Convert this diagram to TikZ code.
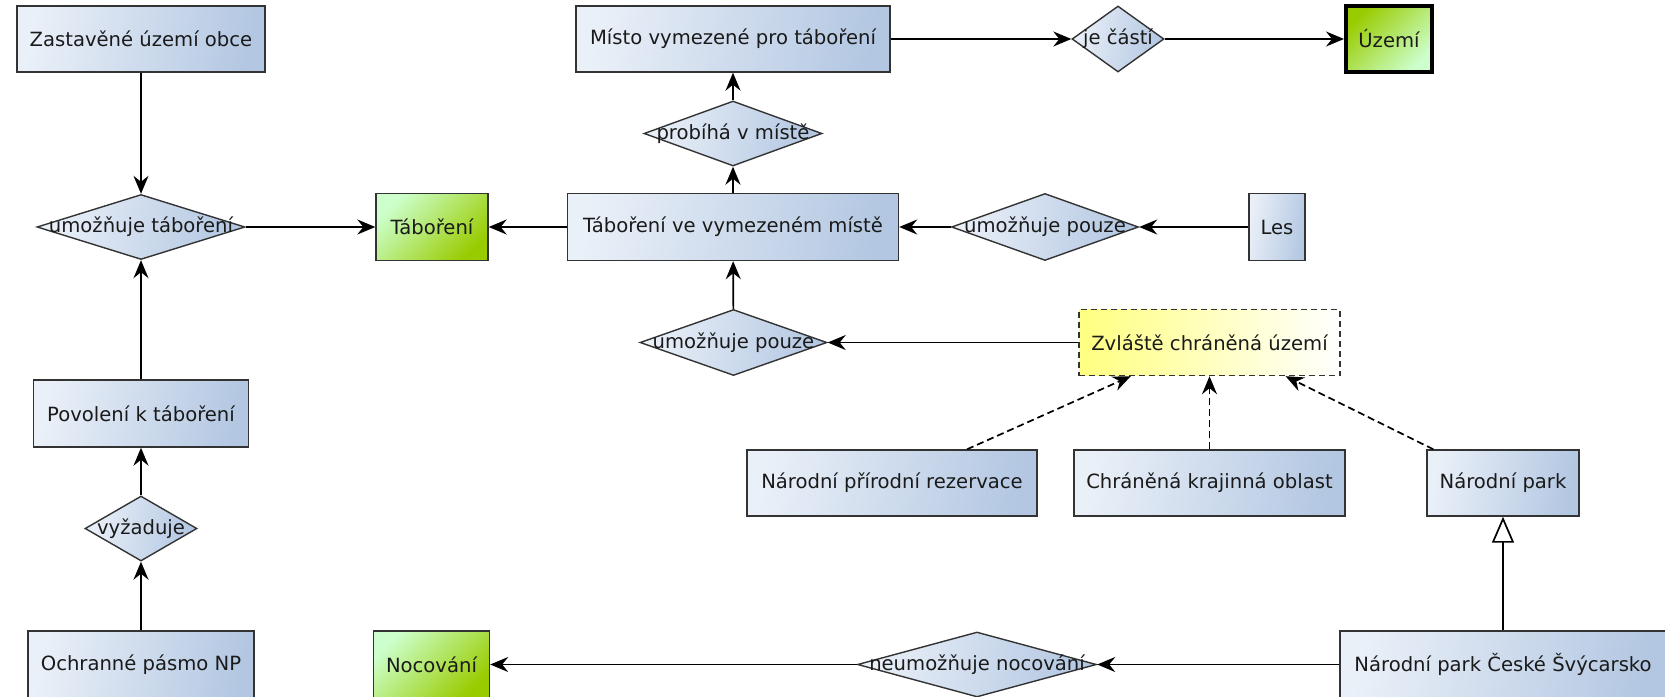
\documentclass[tikz,border=0pt]{standalone}
\usepackage{fontspec}
\setmainfont{DejaVu Sans}
\usetikzlibrary{shapes.geometric, arrows.meta, calc}
\definecolor{bluL}{HTML}{EAF0F8}
\definecolor{bluR}{HTML}{B3C7E2}
\definecolor{grnL}{HTML}{CCFFCC}
\definecolor{grnD}{HTML}{99CC00}
\definecolor{ylw}{HTML}{FFFF80}
\definecolor{bord}{HTML}{333333}
\definecolor{txt}{HTML}{1A1A1A}
\begin{document}
\begin{tikzpicture}[x=1pt,y=-1pt,
  font=\fontsize{19.6}{23}\selectfont,
  base/.style={draw=bord, line width=1.4pt, text=txt, inner sep=2pt},
  ent/.style={base, rectangle, left color=bluL, right color=bluR, shading angle=80},
  grn/.style={base, rectangle, left color=grnL, right color=grnD, shading angle=45},
  grnrev/.style={base, rectangle, left color=grnD, right color=grnL, shading angle=45, line width=4pt, draw=black},
  zvlbox/.style={base, rectangle, left color=ylw, right color=white, shading angle=90, dash pattern=on 6pt off 4pt},
  rel/.style={base, diamond, left color=bluL, right color=bluR, shading angle=80, inner sep=0pt},
  conn/.style={-{Stealth[length=18pt,width=15pt,inset=6pt]}, line width=1.7pt, black},
  dconn/.style={conn, dash pattern=on 7pt off 4pt},
  gen/.style={-{Triangle[open, length=26pt, width=22pt]}, line width=1.7pt, black}
]
\useasboundingbox (0,0) rectangle (1665,696);

% row 1
\node[ent, minimum width=248pt, minimum height=66pt] (zast) at (141,39) {Zastavěné území obce};
\node[ent, minimum width=314pt, minimum height=66pt] (misto) at (733,39) {Místo vymezené pro táboření};
\node[rel, minimum width=92pt, minimum height=66pt] (jecasti) at (1118,39) {\makebox[0pt]{je částí}};
\node[grnrev, minimum width=86pt, minimum height=66pt] (uzemi) at (1389,39) {Území};

% row 2
\node[rel, minimum width=178pt, minimum height=65pt] (probiha) at (733,133.5) {\makebox[0pt]{probíhá v místě}};

% row 3
\node[rel, minimum width=208pt, minimum height=65pt] (umtab) at (141,227) {\makebox[0pt]{umožňuje táboření}};
\node[grn, minimum width=112pt, minimum height=67pt] (tab) at (432,227) {Táboření};
\node[ent, minimum width=331pt, minimum height=67pt] (tvm) at (733,227) {Táboření ve vymezeném místě};
\node[rel, minimum width=187pt, minimum height=67pt] (umpouze1) at (1045,227) {\makebox[0pt]{umožňuje pouze}};
\node[ent, minimum width=56pt, minimum height=67pt] (les) at (1277,227) {Les};

% row 4
\node[rel, minimum width=187pt, minimum height=66pt] (umpouze2) at (733.5,342.5) {\makebox[0pt]{umožňuje pouze}};
\node[zvlbox, minimum width=261pt, minimum height=66pt] (zvl) at (1209.5,342.5) {Zvláště chráněná území};

% left column
\node[ent, minimum width=215pt, minimum height=67pt] (povol) at (141,413.5) {Povolení k táboření};
\node[rel, minimum width=112pt, minimum height=65pt] (vyz) at (141,528.5) {\makebox[0pt]{vyžaduje}};
\node[ent, minimum width=226pt, minimum height=67pt] (ochr) at (141,664.5) {Ochranné pásmo NP};

% row 5
\node[ent, minimum width=290pt, minimum height=66pt] (npr) at (892,483) {Národní přírodní rezervace};
\node[ent, minimum width=271pt, minimum height=66pt] (cko) at (1209.5,483) {Chráněná krajinná oblast};
\node[ent, minimum width=152pt, minimum height=66pt] (np) at (1503,483) {Národní park};

% bottom row
\node[grn, minimum width=116pt, minimum height=67pt] (noc) at (431.5,664.5) {Nocování};
\node[rel, minimum width=239pt, minimum height=65pt] (neum) at (977,664.5) {\makebox[0pt]{neumožňuje nocování}};
\node[ent, minimum width=326pt, minimum height=67pt] (npcs) at (1503,664.5) {Národní park České Švýcarsko};

% connectors
\draw[conn] (zast) -- (umtab);
\draw[conn] (povol) -- (umtab);
\draw[conn] (vyz) -- (povol);
\draw[conn] (ochr) -- (vyz);
\draw[conn] (umtab) -- (tab);
\draw[conn] (tvm) -- (tab);
\draw[conn] (tvm) -- (probiha);
\draw[conn] (probiha) -- (misto);
\draw[conn] (misto) -- (jecasti);
\draw[conn] (jecasti) -- (uzemi);
\draw[conn] (les) -- (umpouze1);
\draw[conn] (umpouze1) -- (tvm);
\draw[conn] (zvl) -- (umpouze2);
\draw[conn] (umpouze2) -- (tvm);
\draw[dconn] ($(npr.north)+(75,0)$) -- ($(zvl.south west)!0.2!(zvl.south east)$);
\draw[dconn] (cko) -- (zvl);
\draw[dconn] ($(np.north west)+(7,0)$) -- ($(zvl.south west)!0.79!(zvl.south east)$);
\draw[gen] (npcs) -- (np);
\draw[conn] (npcs) -- (neum);
\draw[conn] (neum) -- (noc);
\end{tikzpicture}
\end{document}
